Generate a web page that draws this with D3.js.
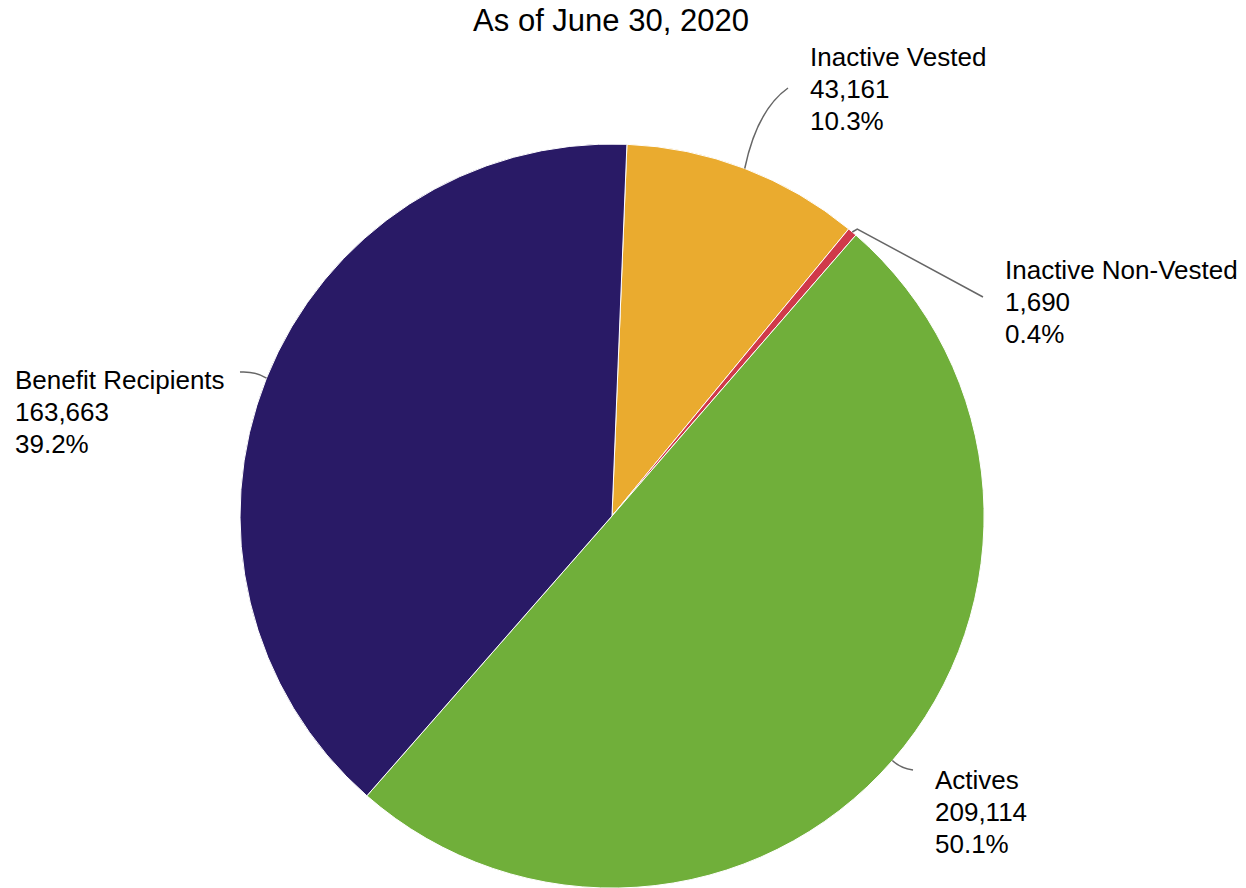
<!DOCTYPE html>
<html>
<head>
<meta charset="utf-8">
<script src="https://cdn.jsdelivr.net/npm/d3@7"></script>
<style>
  html, body { margin: 0; padding: 0; background: #fff; }
  svg { display: block; }
  text { font-family: "Liberation Sans", Arial, sans-serif; fill: #000; }
</style>
</head>
<body>
<svg id="chart" width="1246" height="888"></svg>
<script>
// Membership counts by status, as of June 30, 2020
const categories = ["Inactive Vested", "Inactive Non-Vested", "Actives", "Benefit Recipients"];
const members = [43161, 1690, 209114, 163663];
const sliceColors = ["#EAAB2F", "#D0394A", "#70AF3A", "#291A66"];

// Label placement: anchor of the text block and the end of its leader line
const labelAnchors = [
  { x: 810, y: 66, lx: 788, ly: 88, cx: 757, cy: 110 },
  { x: 1005, y: 279, lx: 983, ly: 297, cx: null, cy: null },
  { x: 935, y: 789, lx: 913, ly: 770, cx: 900, cy: 768 },
  { x: 15, y: 389, lx: 240, ly: 372, cx: 255, cy: 371 }
];

const width = 1246, height = 888;
const cx = 612, cy = 516, radius = 372;
const startDeg = 2.3;

const svg = d3.select("#chart");

svg.append("text")
  .attr("x", 611)
  .attr("y", 31)
  .attr("text-anchor", "middle")
  .style("font-size", "31px")
  .text("As of June 30, 2020");

const total = d3.sum(members);
const rows = categories.map((c, i) => ({ name: c, value: members[i], color: sliceColors[i], anchor: labelAnchors[i] }));

const pie = d3.pie()
  .value(d => d.value)
  .sort(null)
  .startAngle(startDeg * Math.PI / 180)
  .endAngle(startDeg * Math.PI / 180 + 2 * Math.PI);

const arc = d3.arc().innerRadius(0).outerRadius(radius);
const edge = d3.arc().innerRadius(radius).outerRadius(radius);

const arcs = pie(rows);

const g = svg.append("g").attr("transform", `translate(${cx},${cy})`);

g.selectAll("path.slice")
  .data(arcs)
  .join("path")
  .attr("class", "slice")
  .attr("d", arc)
  .attr("fill", d => d.data.color)
  .attr("stroke", "#fff")
  .attr("stroke-width", 1);

// Leader lines from slice edge to label
const fmtN = d3.format(",");
const fmtP = d3.format(".1%");

arcs.forEach(d => {
  const a = (d.startAngle + d.endAngle) / 2;
  const px = cx + radius * Math.sin(a);
  const py = cy - radius * Math.cos(a);
  const an = d.data.anchor;
  const path = d3.path();
  path.moveTo(px, py);
  if (an.cx === null) {
    path.lineTo(px + 5, py - 3);
    path.lineTo(an.lx, an.ly);
  } else {
    path.quadraticCurveTo(an.cx, an.cy, an.lx, an.ly);
  }
  svg.append("path")
    .attr("d", path.toString())
    .attr("fill", "none")
    .attr("stroke", "#666")
    .attr("stroke-width", 1.5);

  const t = svg.append("text")
    .attr("x", an.x)
    .attr("y", an.y)
    .style("font-size", "26px");
  const lines = [d.data.name, fmtN(d.data.value), fmtP(d.data.value / total)];
  lines.forEach((s, i) => {
    t.append("tspan")
      .attr("x", an.x)
      .attr("dy", i === 0 ? 0 : 32)
      .text(s);
  });
});
</script>
</body>
</html>
